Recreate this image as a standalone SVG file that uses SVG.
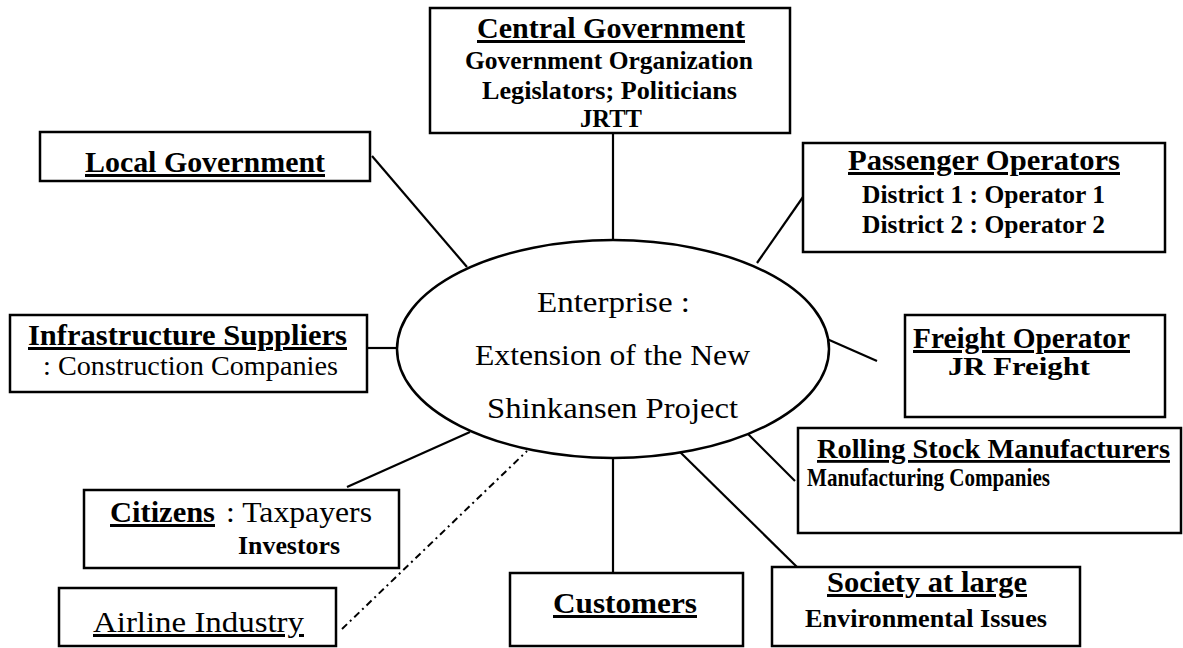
<svg xmlns="http://www.w3.org/2000/svg" width="1183" height="648" viewBox="0 0 1183 648" font-family="'Liberation Serif', 'Times New Roman', serif">
<style>
.box{fill:#ffffff;stroke:#000;stroke-width:2.5}
.ln{stroke:#000;stroke-width:2.2;fill:none}
.dd{stroke:#000;stroke-width:2;fill:none;stroke-dasharray:7 4 2 4}
text{font-family:'Liberation Serif','Times New Roman',serif;fill:#000}
.h{font-size:30px;font-weight:bold;text-decoration:underline}
.b{font-size:25px;font-weight:bold}
.r{font-size:29px}
</style>
<rect width="1183" height="648" fill="#fff"/>
<g id="connectors">
<line class="ln" x1="613" y1="133" x2="613" y2="240"/>
<line class="ln" x1="372" y1="156" x2="467" y2="267"/>
<line class="ln" x1="803" y1="197" x2="757" y2="263"/>
<line class="ln" x1="367" y1="348" x2="397" y2="348"/>
<line class="ln" x1="827" y1="339" x2="877" y2="361"/>
<line class="ln" x1="747" y1="433" x2="795" y2="481"/>
<line class="ln" x1="680" y1="452" x2="797" y2="567"/>
<line class="ln" x1="613" y1="458" x2="613" y2="573"/>
<line class="ln" x1="347" y1="487" x2="470" y2="432"/>
<line class="dd" x1="342" y1="629" x2="527" y2="451"/>
</g>
<g id="enterprise">
<ellipse cx="613" cy="349" rx="216" ry="109" fill="#fff" stroke="#000" stroke-width="2.5"/>
<text class="r" x="537" y="312" textLength="153" lengthAdjust="spacingAndGlyphs">Enterprise :</text>
<text class="r" x="475" y="365" textLength="275" lengthAdjust="spacingAndGlyphs">Extension of the New</text>
<text class="r" x="487" y="418" textLength="251" lengthAdjust="spacingAndGlyphs">Shinkansen Project</text>
</g>
<g id="central-government">
<rect class="box" x="430" y="8" width="360" height="125"/>
<text class="h" x="477" y="38" textLength="268" lengthAdjust="spacingAndGlyphs">Central Government</text>
<text class="b" x="465" y="69" textLength="288" lengthAdjust="spacingAndGlyphs">Government Organization</text>
<text class="b" x="482" y="99" textLength="255" lengthAdjust="spacingAndGlyphs">Legislators; Politicians</text>
<text class="b" x="580" y="127" textLength="62" lengthAdjust="spacingAndGlyphs">JRTT</text>
</g>
<g id="local-government">
<rect class="box" x="40" y="132" width="330" height="49"/>
<text class="h" x="85" y="172" textLength="240" lengthAdjust="spacingAndGlyphs">Local Government</text>
</g>
<g id="passenger-operators">
<rect class="box" x="803" y="143" width="362" height="109"/>
<text class="h" x="848" y="170" textLength="272" lengthAdjust="spacingAndGlyphs">Passenger Operators</text>
<text class="b" x="862" y="203" textLength="243" lengthAdjust="spacingAndGlyphs">District 1 : Operator 1</text>
<text class="b" x="862" y="233" textLength="243" lengthAdjust="spacingAndGlyphs">District 2 : Operator 2</text>
</g>
<g id="infrastructure-suppliers">
<rect class="box" x="10" y="315" width="357" height="77"/>
<text class="h" x="28" y="345" textLength="319" lengthAdjust="spacingAndGlyphs">Infrastructure Suppliers</text>
<text class="r" x="43" y="375" style="font-size:27px" textLength="295" lengthAdjust="spacingAndGlyphs">: Construction Companies</text>
</g>
<g id="freight-operator">
<rect class="box" x="905" y="315" width="260" height="102"/>
<text class="h" x="913" y="348" textLength="217" lengthAdjust="spacingAndGlyphs">Freight Operator</text>
<text class="b" x="948" y="375" textLength="142" lengthAdjust="spacingAndGlyphs">JR Freight</text>
</g>
<g id="rolling-stock-manufacturers">
<rect class="box" x="798" y="428" width="383" height="105"/>
<text class="h" x="817" y="458" style="font-size:28px" textLength="353" lengthAdjust="spacingAndGlyphs">Rolling Stock Manufacturers</text>
<text class="b" x="807" y="486" textLength="243" lengthAdjust="spacingAndGlyphs">Manufacturing Companies</text>
</g>
<g id="society-at-large">
<rect class="box" x="772" y="567" width="308" height="79"/>
<text class="h" x="827" y="592" textLength="200" lengthAdjust="spacingAndGlyphs">Society at large</text>
<text class="b" x="805" y="627" textLength="242" lengthAdjust="spacingAndGlyphs">Environmental Issues</text>
</g>
<g id="customers">
<rect class="box" x="510" y="573" width="233" height="73"/>
<text class="h" x="553" y="613" textLength="144" lengthAdjust="spacingAndGlyphs">Customers</text>
</g>
<g id="citizens">
<rect class="box" x="84" y="490" width="315" height="78"/>
<text class="h" x="110" y="522" textLength="105" lengthAdjust="spacingAndGlyphs">Citizens</text>
<text class="r" x="226" y="522" style="font-size:30px" textLength="146" lengthAdjust="spacingAndGlyphs">: Taxpayers</text>
<text class="b" x="238" y="554" textLength="102" lengthAdjust="spacingAndGlyphs">Investors</text>
</g>
<g id="airline-industry">
<rect class="box" x="59" y="588" width="277" height="58"/>
<text class="r" x="93" y="632" style="font-size:30px;text-decoration:underline" textLength="211" lengthAdjust="spacingAndGlyphs">Airline Industry</text>
</g>
</svg>
